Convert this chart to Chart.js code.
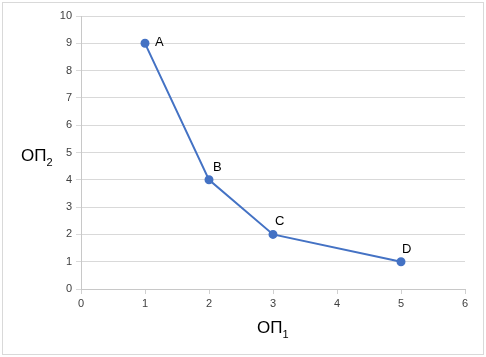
<!DOCTYPE html>
<html><head><meta charset="utf-8">
<script src="https://cdn.jsdelivr.net/npm/chart.js@4"></script>
<style>html,body{margin:0;padding:0;background:#fff}#w{width:486px;height:357px}</style>
</head><body><div id="w"><canvas id="c"></canvas></div>
<script>
const pointLabels = ["A", "B", "C", "D"];
const xValues = [1, 2, 3, 5];
const yValues = [9, 4, 2, 1];
const xTitle = ["ОП", "1"];
const yTitle = ["ОП", "2"];
const FONT = "'Liberation Sans', Arial, sans-serif";

const extras = {
  id: 'extras',
  afterDraw(chart) {
    const ctx = chart.ctx;
    ctx.save();
    ctx.strokeStyle = '#d9d9d9'; ctx.lineWidth = 1;
    ctx.strokeRect(2.5, 2.5, 481, 352);
    const meta = chart.getDatasetMeta(0);
    ctx.fillStyle = '#000'; ctx.font = '13px ' + FONT;
    ctx.textBaseline = 'alphabetic';
    const offs = [[10, 3], [4, -9], [2, -9], [1, -9]];
    meta.data.forEach((p, i) => {
      ctx.textAlign = 'left';
      ctx.fillText(pointLabels[i], p.x + offs[i][0], p.y + offs[i][1]);
    });
    function sub(parts, x, y) {
      ctx.font = '17px ' + FONT; ctx.textAlign = 'left';
      ctx.fillText(parts[0], x, y);
      const w = ctx.measureText(parts[0]).width;
      ctx.font = '11px ' + FONT;
      ctx.fillText(parts[1], x + w, y + 5);
    }
    sub(xTitle, 257, 333);
    sub(yTitle, 21, 161);
    ctx.restore();
  }
};

new Chart(document.getElementById('c'), {
  type: 'scatter',
  data: {
    datasets: [{
      data: xValues.map((x, i) => ({x, y: yValues[i]})),
      showLine: true,
      borderColor: '#4472C4', backgroundColor: '#4472C4',
      borderWidth: 2, pointRadius: 3.5, pointHoverRadius: 3.5
    }]
  },
  options: {
    responsive: true, maintainAspectRatio: false, animation: false,
    events: [],
    layout: {padding: {left: 0, right: 21, top: 16, bottom: 0}},
    plugins: {legend: {display: false}, tooltip: {enabled: false}},
    scales: {
      x: {
        type: 'linear', min: 0, max: 6,
        ticks: {stepSize: 1, color: '#404040', font: {size: 11, family: FONT}, padding: 3},
        grid: {drawOnChartArea: false, drawTicks: true, tickLength: 5, color: '#d0d0d0'},
        border: {color: '#c8c8c8'},
        afterFit(s) { s.height = 68; }
      },
      y: {
        type: 'linear', min: 0, max: 10,
        ticks: {stepSize: 1, color: '#404040', font: {size: 11, family: FONT}, padding: 4},
        grid: {color: '#d9d9d9', tickLength: 5},
        border: {color: '#c8c8c8'},
        afterFit(s) { s.width = 81; }
      }
    }
  },
  plugins: [extras]
});
</script></body></html>
